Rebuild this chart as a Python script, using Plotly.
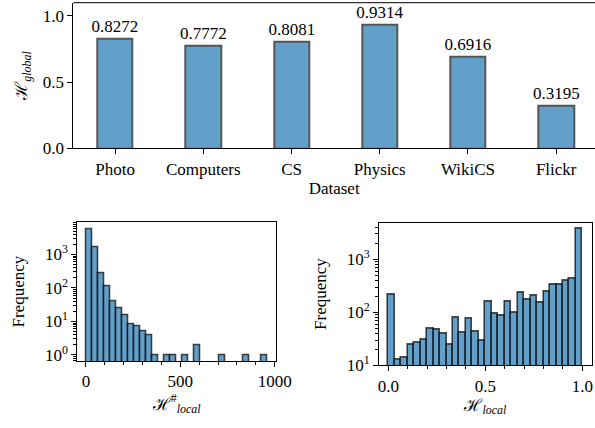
import plotly.graph_objects as go
import numpy as np

# ---------------- data ----------------
datasets = ["Photo", "Computers", "CS", "Physics", "WikiCS", "Flickr"]
h_global = [0.8272, 0.7772, 0.8081, 0.9314, 0.6916, 0.3195]

# histogram of H#_local (30 bins of width 32 starting at 0)
hash_bin_start = 0
hash_bin_width = 32
hash_counts = [5750, 1630, 275, 115, 41, 25, 15, 8, 7, 5, 4, 1, 0, 1, 1,
               0, 1, 0, 2, 0, 0, 0, 1, 0, 0, 0, 1, 0, 0, 1]

# histogram of H_local (30 bins over [0, 1])
loc_bin_start = 0.0
loc_bin_width = 1 / 30
loc_counts = [219, 13, 14, 24, 27, 30, 49, 47, 40, 24, 78, 41, 76, 43, 29,
              156, 96, 88, 158, 100, 231, 176, 209, 150, 242, 332, 332, 400, 425, 3800]

# ---------------- style ----------------
W, H = 595, 428
FONT = "'Liberation Serif'"
FS = 17
BAR_FILL = "#62a0ca"
EDGE = "rgba(0,0,0,0.7)"

def centers(start, width, n):
    return [start + width * (i + 0.5) for i in range(n)]

def nz(vals):
    return [v if v > 0 else None for v in vals]

def dom_x(a, b):
    return [a / W, min(b / W, 1.0)]

def dom_y(top, bottom):
    return [1 - bottom / H, 1 - top / H]

fig = go.Figure()

fig.add_trace(go.Bar(
    x=datasets, y=h_global, width=0.4,
    marker=dict(color=BAR_FILL, line=dict(color="#555555", width=2)),
    text=[f"{v:.4f}" for v in h_global], textposition="outside",
    textfont=dict(family=FONT, size=FS, color="black"),
    constraintext="none", cliponaxis=False,
    xaxis="x", yaxis="y", showlegend=False,
))

fig.add_trace(go.Bar(
    x=centers(hash_bin_start, hash_bin_width, len(hash_counts)), y=nz(hash_counts),
    width=hash_bin_width,
    marker=dict(color=BAR_FILL, line=dict(color=EDGE, width=1.6)),
    xaxis="x2", yaxis="y2", showlegend=False,
))

fig.add_trace(go.Bar(
    x=centers(loc_bin_start, loc_bin_width, len(loc_counts)), y=nz(loc_counts),
    width=loc_bin_width,
    marker=dict(color=BAR_FILL, line=dict(color=EDGE, width=1.6)),
    xaxis="x3", yaxis="y3", showlegend=False,
))

axis_common = dict(
    showline=True, linecolor="black", linewidth=1,
    ticks="outside", ticklen=5, tickwidth=1, tickcolor="black",
    tickfont=dict(family=FONT, size=FS, color="black"),
    showgrid=False, zeroline=False, automargin=False,
)

def log_minor(lo, hi):
    vals = []
    for k in range(lo, hi + 1):
        for m in range(2, 10):
            vals.append(m * 10 ** k)
    return vals

TFONT = dict(family=FONT, size=FS, color="black")

fig.update_layout(
    width=W, height=H,
    margin=dict(l=0, r=0, t=0, b=0, autoexpand=False),
    plot_bgcolor="white", paper_bgcolor="white",
    bargap=0,
    font=dict(family=FONT, size=FS, color="black"),
    xaxis=dict(**axis_common, domain=dom_x(73.3, 597.6), anchor="y",
               type="category", range=[-0.474, 5.44], mirror=False,
               title=dict(text="Dataset", standoff=2, font=TFONT)),
    yaxis=dict(**axis_common, domain=dom_y(2.7, 148.3), anchor="x",
               range=[0, 1.1], tickvals=[0, 0.5, 1.0],
               ticktext=["0.0", "0.5", "1.0"],
               title=dict(text="ℋ<sub><i>global</i></sub>", standoff=10, font=TFONT)),
    xaxis2=dict(**axis_common, domain=dom_x(77.3, 276), anchor="y2",
                range=[-46, 1007], tickvals=[0, 500, 1000], mirror=True,
                minor=dict(ticks="outside", ticklen=3, tickcolor="black",
                           dtick=100, showgrid=False),
                title=dict(text="ℋ<sup>#</sup><sub><i>local</i></sub>", standoff=6, font=TFONT)),
    yaxis2=dict(**axis_common, domain=dom_y(222.3, 361), anchor="x2",
                type="log", range=[-0.18, 3.96], mirror=True,
                tickvals=[1, 10, 100, 1000],
                ticktext=["10<sup>0</sup>", "10<sup>1</sup>", "10<sup>2</sup>", "10<sup>3</sup>"],
                minor=dict(ticks="outside", ticklen=3, tickcolor="black",
                           tickvals=log_minor(-1, 3), showgrid=False),
                title=dict(text="Frequency", standoff=15, font=TFONT)),
    xaxis3=dict(**axis_common, domain=dom_x(379, 591.7), anchor="y3",
                range=[-0.048, 1.048], tickvals=[0, 0.5, 1.0],
                ticktext=["0.0", "0.5", "1.0"], mirror=True,
                minor=dict(ticks="outside", ticklen=3, tickcolor="black",
                           dtick=0.1, showgrid=False),
                title=dict(text="ℋ<sub><i>local</i></sub>", standoff=3, font=TFONT)),
    yaxis3=dict(**axis_common, domain=dom_y(222.7, 365.3), anchor="x3",
                type="log", range=[1, 3.69], mirror=True,
                tickvals=[10, 100, 1000],
                ticktext=["10<sup>1</sup>", "10<sup>2</sup>", "10<sup>3</sup>"],
                minor=dict(ticks="outside", ticklen=3, tickcolor="black",
                           tickvals=log_minor(1, 3), showgrid=False),
                title=dict(text="Frequency", standoff=15, font=TFONT)),
)

# top frame line of upper panel (right spine lies outside the image)
fig.add_shape(type="line", xref="x domain", yref="y domain",
              x0=0, x1=1, y0=1, y1=1, line=dict(color="black", width=1))

fig.write_html(
    "out.html",
    config={"displayModeBar": False},
    post_script="document.body.style.margin='0';document.body.style.overflow='hidden';",
)
